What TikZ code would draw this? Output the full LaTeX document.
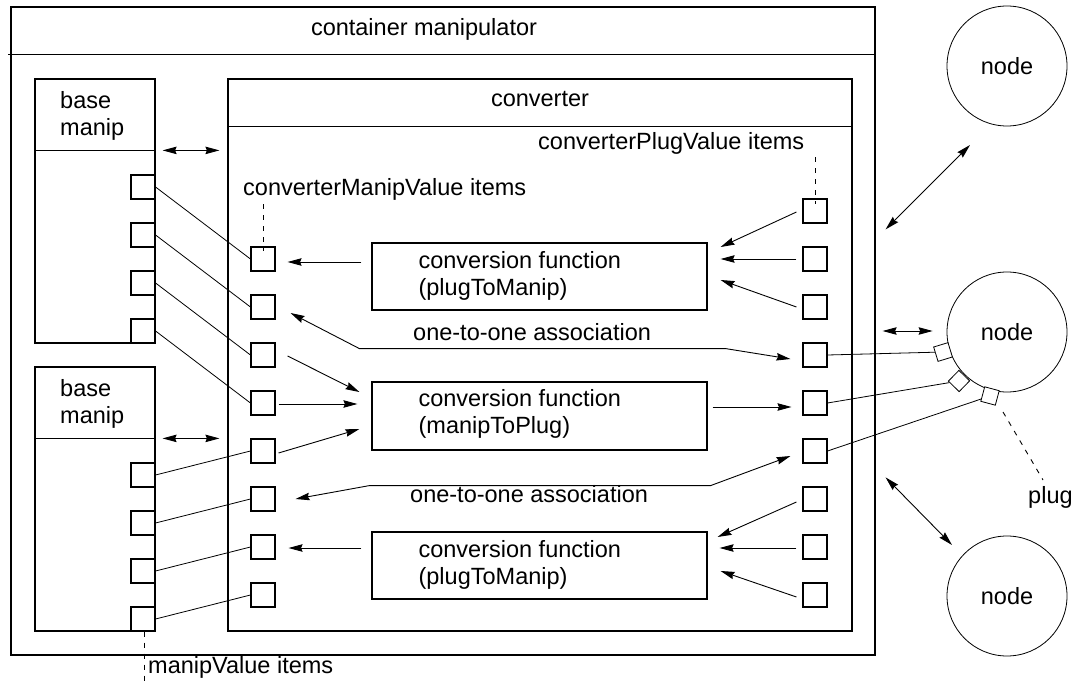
\documentclass[tikz,border=0pt]{standalone}
\usepackage{fontspec}
\setmainfont{Liberation Sans}
\usetikzlibrary{arrows.meta,calc}
\begin{document}
\begin{tikzpicture}[x=1pt,y=-1pt,
  every node/.style={font=\fontsize{23.5}{27}\selectfont},
  box/.style={draw, line width=1.2pt, inner sep=0pt, rectangle},
  sq/.style={draw, line width=1.1pt, inner sep=0pt, minimum size=24pt},
  thinline/.style={line width=0.8pt},
  arr/.style={line width=0.9pt, -{Stealth[length=14pt,width=7.5pt,inset=1.5pt]}},
  darr/.style={line width=0.9pt, {Stealth[length=14pt,width=7.5pt,inset=1.5pt]}-{Stealth[length=14pt,width=7.5pt,inset=1.5pt]}},
  lead/.style={line width=0.9pt, dash pattern=on 5pt off 6pt},
  txt/.style={inner sep=0pt, align=left},
  circ/.style={draw, circle, line width=0.8pt, minimum size=120pt, inner sep=0pt},
  plugbox/.style={draw, line width=0.8pt, minimum size=15pt, inner sep=0pt, fill=white}
]
\useasboundingbox (0,0) rectangle (1075,684);

% containers
\node[box, minimum width=864pt, minimum height=648pt] (cont) at (443,331) {};
\draw[line width=1.2pt] ($(cont.north west)+(-2,48)$) -- ($(cont.north east)+(0,48)$);
\node[txt, anchor=mid] (tcont) at (424,33) {container manipulator};

\node[box, minimum width=624pt, minimum height=552pt] (conv) at (540,355) {};
\draw[line width=1.2pt] ($(conv.north west)+(0,48)$) -- ($(conv.north east)+(0,48)$);
\node[txt, anchor=mid] (tconv) at (540,104) {converter};

\node[box, minimum width=120pt, minimum height=264pt] (bm1) at (95,211) {};
\draw[line width=1.2pt] ($(bm1.north west)+(0,72)$) -- ($(bm1.north east)+(0,72)$);
\node[txt, anchor=west] (tbm1) at (60,116) {base\\manip};

\node[box, minimum width=120pt, minimum height=264pt] (bm2) at (95,499) {};
\draw[line width=1.2pt] ($(bm2.north west)+(0,72)$) -- ($(bm2.north east)+(0,72)$);
\node[txt, anchor=west] (tbm2) at (60,404) {base\\manip};

% base manip value squares
\foreach \i/\y in {1/187,2/235,3/283,4/331,5/475,6/523,7/571,8/619}
  \node[sq] (b\i) at (143,\y) {};
% converter manip value items
\foreach \i/\y in {1/259,2/307,3/355,4/403,5/451,6/499,7/547,8/595}
  \node[sq] (c\i) at (263,\y) {};
% converter plug value items
\foreach \i/\y in {1/211,2/259,3/307,4/355,5/403,6/451,7/499,8/547,9/595}
  \node[sq] (r\i) at (815,\y) {};

% conversion functions
\node[box, minimum width=335pt, minimum height=67pt] (f1) at (539.5,276.5) {};
\node[txt, anchor=west] (tf1) at ($(f1.west)+(47,-1)$) {conversion function\\(plugToManip)};
\node[box, minimum width=335pt, minimum height=68pt] (f2) at (539.5,416) {};
\node[txt, anchor=west] (tf2) at ($(f2.west)+(47,-2)$) {conversion function\\(manipToPlug)};
\node[box, minimum width=335pt, minimum height=67pt] (f3) at (539.5,565.5) {};
\node[txt, anchor=west] (tf3) at ($(f3.west)+(47,-1)$) {conversion function\\(plugToManip)};

% base -> converter item lines
\foreach \i in {1,...,8}
  \draw[thinline] (b\i.east) -- (c\i.west);

% arrows around f1
\draw[arr] ($(f1.west)+(-10,-14.5)$) -- ($(c1.east)+(12,3)$);
\draw[arr] ($(r1.west)+(-6,1)$) -- ($(f1.east)+(13,-29.5)$);
\draw[arr] ($(r2.west)+(-6,0)$) -- ($(f1.east)+(13,-17.5)$);
\draw[arr] ($(r3.west)+(-6,0)$) -- ($(f1.east)+(13,3.5)$);
% association 1
\draw[darr] ($(c2.east)+(15,6)$) -- ($(f1.south west)+(-12,38)$) -- ($(f1.south east)+(18,38)$) -- ($(r4.west)+(-12,4)$);
\node[txt, anchor=mid west] (ta1) at (413,338) {one-to-one association};
% arrows around f2
\draw[arr] ($(c3.east)+(12,1)$) -- ($(f2.west)+(-12,-24)$);
\draw[arr] ($(c4.east)+(3,1)$) -- ($(f2.west)+(-14,-12)$);
\draw[arr] ($(c5.east)+(3,2)$) -- ($(f2.west)+(-12,13)$);
\draw[arr] ($(f2.east)+(5,-9)$) -- ($(r5.west)+(-11,4)$);
% association 2
\draw[darr] ($(c6.east)+(20,0)$) -- ($(f2.south west)+(-2,35)$) -- ($(f2.south east)+(3,35)$) -- ($(r6.west)+(-12,5)$);
\node[txt, anchor=mid west] (ta2) at (410,500) {one-to-one association};
% arrows around f3
\draw[arr] ($(f3.west)+(-10,-17.5)$) -- ($(c7.east)+(13,1)$);
\draw[arr] ($(r7.west)+(-6,3)$) -- ($(f3.east)+(10,-28.5)$);
\draw[arr] ($(r8.west)+(-6,1)$) -- ($(f3.east)+(12,-17.5)$);
\draw[arr] ($(r9.west)+(-6,2)$) -- ($(f3.east)+(13,5.5)$);

% double arrows base manip <-> converter
\draw[darr] ($(bm1.north east)+(7,72)$) -- ($(conv.north west)+(-8,72)$);
\draw[darr] ($(bm2.north east)+(7,72)$) -- ($(conv.north west)+(-8,360)$);

% nodes
\node[circ] (n1) at (1007,66) {node};
\node[circ] (n2) at (1007,332) {node};
\node[circ] (n3) at (1007,596) {node};

% plugs
\node[plugbox, rotate=197] (p1) at (943,352) {};
\node[plugbox, rotate=225.6] (p2) at (959,381) {};
\node[plugbox, rotate=255] (p3) at (990,396) {};
\draw[thinline] (r4.east) -- (p1);
\draw[thinline] (r5.east) -- (p2);
\draw[thinline] (r6.east) -- (p3);

% container <-> nodes
\draw[darr] ($(cont.east)+(7,0)$) -- ($(n2.west)+(-14,-1)$);
\draw[darr] ($(cont.north east)+(10,223)$) -- ($(n1.center)+(-37,79)$);
\draw[darr] ($(cont.north east)+(10,471)$) -- ($(n3.center)+(-55,-51)$);

% leaders and labels
\draw[lead] ($(r1.north)+(0,-41)$) -- ($(r1.north)+(0,6)$);
\node[txt, anchor=mid west] (tcpv) at (538,147) {converterPlugValue items};
\draw[lead] ($(c1.north)+(0,-42)$) -- ($(c1.north)+(0,5)$);
\node[txt, anchor=mid west] (tcmv) at (243,193) {converterManipValue items};
\draw[lead] ($(b8.south)+(1,0)$) -- ++(0,52);
\node[txt, anchor=mid west] (tmv) at (148,671) {manipValue items};
\draw[lead] ($(p3)+(13,16)$) -- ($(p3)+(53,84)$);
\node[txt, anchor=mid west] (tplug) at (1028,501) {plug};
\end{tikzpicture}
\end{document}
